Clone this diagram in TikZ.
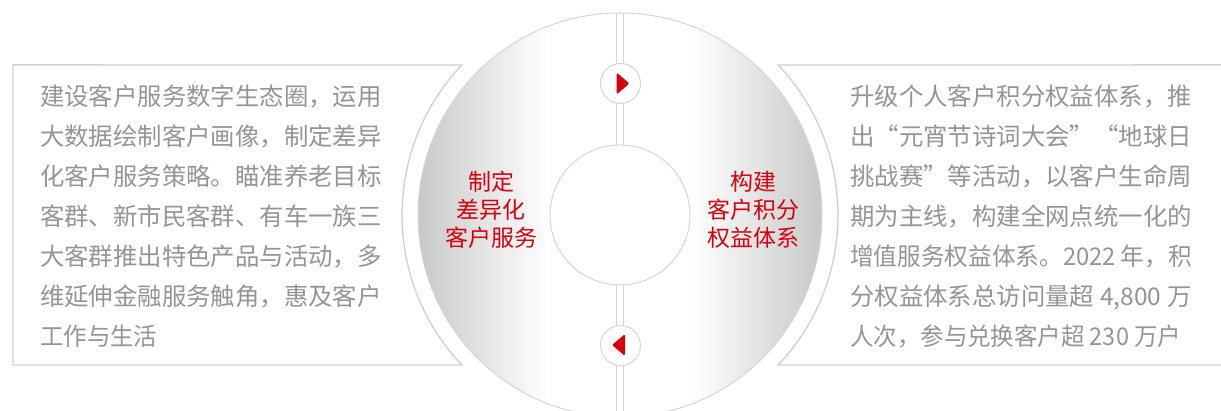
\documentclass[tikz,border=0pt]{standalone}
\usepackage{fontspec}
\usepackage{graphicx}
\setmainfont{Noto Sans CJK SC}
\newfontfamily\fwq[RawFeature=+fwid]{Noto Sans CJK SC}
\definecolor{linegray}{HTML}{D0D0D0}
\definecolor{circgray}{HTML}{D6D6D6}
\definecolor{txtgray}{HTML}{959595}
\definecolor{shgray}{HTML}{C6C7C7}
\definecolor{brandred}{HTML}{D7000F}
\newcommand\justline[1]{\makebox[341.6pt][s]{#1}}
\newcommand\fitline[2]{\resizebox{#1}{\height}{#2}}
\tikzset{
  panel/.style={draw=linegray, line width=1.3pt},
  thinline/.style={draw=circgray, line width=1pt},
  para/.style={anchor=base west, inner sep=0pt, text=txtgray, font=\fontsize{24.4}{24.4}\selectfont},
  redlbl/.style={align=center, inner sep=0pt, text=brandred, font=\fontsize{23}{28}\selectfont},
  smallc/.style={circle, draw=circgray, line width=1pt, fill=white, minimum size=40pt, inner sep=0pt},
  tri/.style={fill=brandred, rounded corners=1.5pt}
}
\begin{document}
\begin{tikzpicture}[x=1pt,y=1pt]
\useasboundingbox (0,0) rectangle (1221,411);
\fill[white] (0,0) rectangle (1221,411);
\coordinate (C) at (620,196);
% side panels
\draw[panel] (13,346.1) -- ([shift={(136.5:218)}]C) arc[start angle=136.5, end angle=223.5, radius=218] -- (13,45.9) -- cycle;
\draw[panel] (1222,346.1) -- ([shift={(43.5:218)}]C) arc[start angle=43.5, end angle=-43.5, radius=218] -- (1222,45.9);
% big shaded disc
\begin{scope}
  \clip (C) circle (202);
  \fill[white] (C) circle (202);
  \shade[left color=shgray, right color=white] (416,-20) rectangle (548,430);
  \shade[left color=white, right color=shgray] (692,-20) rectangle (824,430);
  \fill[white] (616.5,-20) rectangle (623.5,430);
  \draw[thinline] (616.5,-20) -- (616.5,430);
  \draw[thinline] (623.5,-20) -- (623.5,430);
\end{scope}
\draw[thinline] (C) circle (202);
\draw[thinline, fill=white] (C) circle (70);
% small circles with arrows
\node[smallc] (t) at (620.5,327.5) {};
\node[smallc] (b) at (620.5,65.5) {};
\fill[tri] ([shift={(-4,11)}]t.center) -- ([shift={(9,0)}]t.center) -- ([shift={(-4,-11)}]t.center) -- cycle;
\fill[tri] ([shift={(4.5,11.5)}]b.center) -- ([shift={(-8.5,0.5)}]b.center) -- ([shift={(4.5,-10.5)}]b.center) -- cycle;
% red labels
\node[redlbl] (lab1) at (491,201) {制定\\差异化\\客户服务};
\node[redlbl] (lab2) at (753.5,201) {构建\\客户积分\\权益体系};
% left paragraph
\node[para] (L1) at (40,305) {建设客户服务数字生态圈，运用};
\node[para] (L2) at (40,265) {大数据绘制客户画像，制定差异};
\node[para] (L3) at (40,225) {化客户服务策略。瞄准养老目标};
\node[para] (L4) at (40,185) {客群、新市民客群、有车一族三};
\node[para] (L5) at (40,145) {大客群推出特色产品与活动，多};
\node[para] (L6) at (40,105) {维延伸金融服务触角，惠及客户};
\node[para] (L7) at (40,65) {\fitline{117pt}{工作与生活}};
% right paragraph
\node[para] (R1) at (850,305) {升级个人客户积分权益体系，推};
\node[para] (R2) at (850,265) {出{\fwq “}元宵节诗词大会{\fwq ”}{\fwq “}地球日};
\node[para] (R3) at (850,225) {挑战赛{\fwq ”}等活动，以客户生命周};
\node[para] (R4) at (850,185) {期为主线，构建全网点统一化的};
\node[para] (R5) at (850,145) {\fitline{341.6pt}{增值服务权益体系。2022 年，积}};
\node[para] (R6) at (850,105) {\justline{分权益体系总访问量超 4,800 万}};
\node[para] (R7) at (850,65) {\fitline{331pt}{人次，参与兑换客户超 230 万户}};
\end{tikzpicture}
\end{document}
